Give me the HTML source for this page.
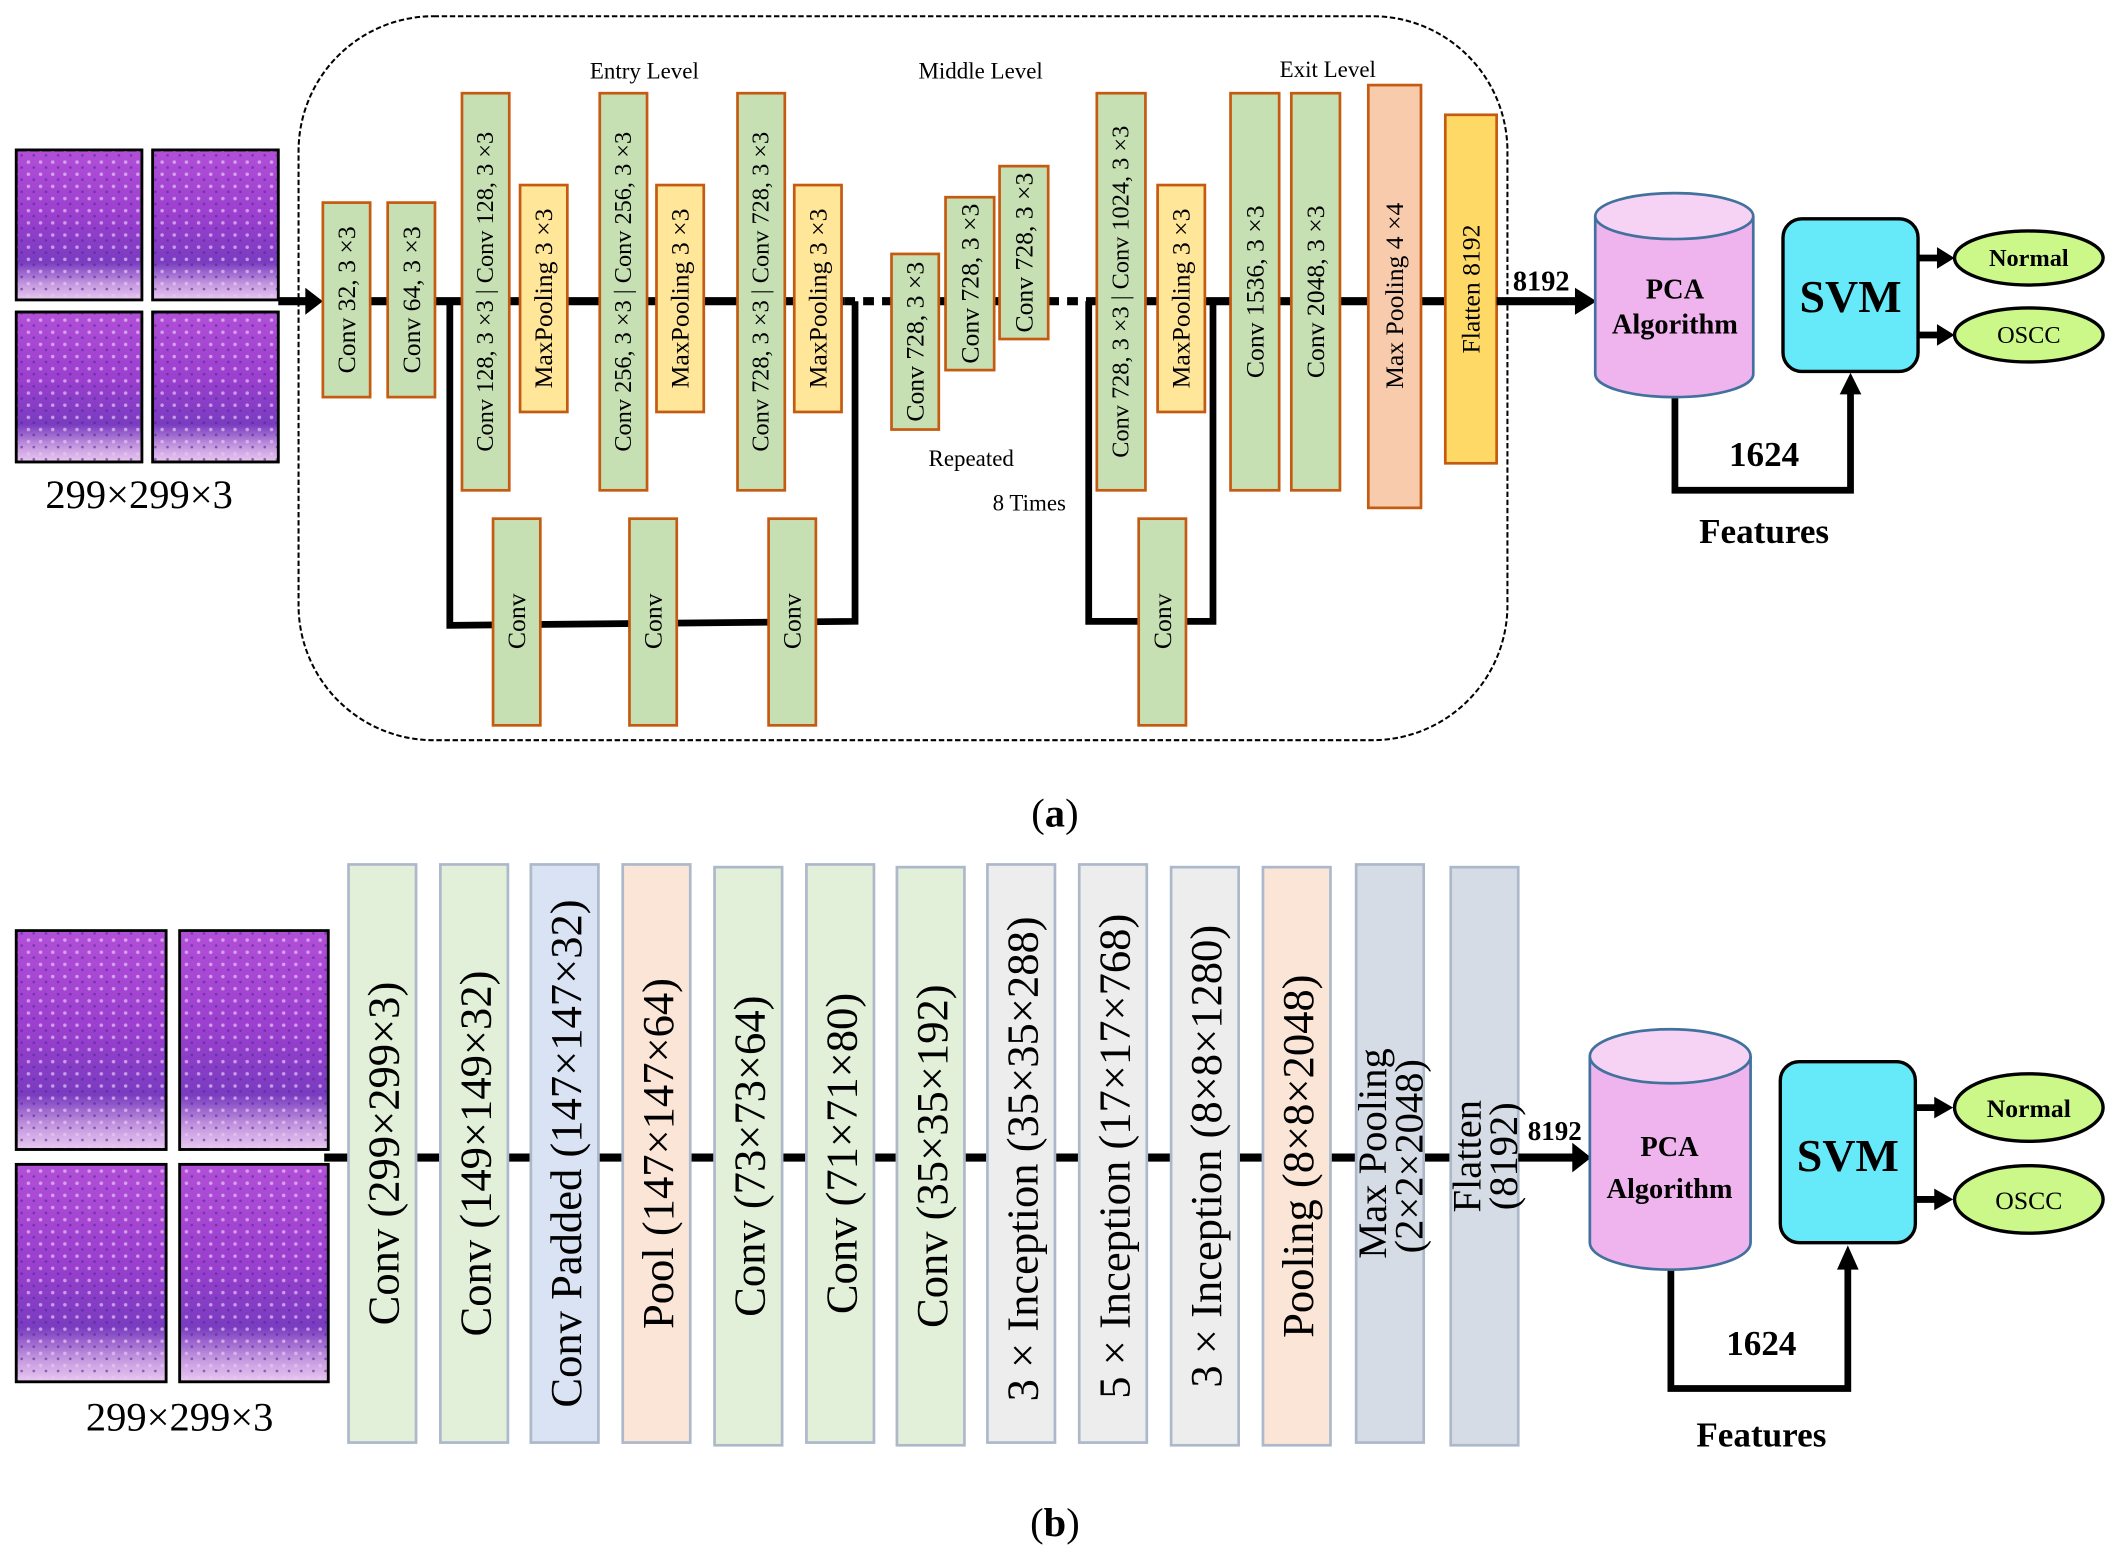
<!DOCTYPE html>
<html><head><meta charset="utf-8"><style>
html,body{margin:0;padding:0;background:#fff;}
svg{display:block;}
svg text{font-family:"Liberation Serif","DejaVu Serif",serif;}
</style></head><body>
<svg width="2118" height="1554" viewBox="0 0 1568 1150.5" xmlns="http://www.w3.org/2000/svg" font-family="Liberation Serif, DejaVu Serif, serif">
<defs>
<linearGradient id="tis" x1="0" y1="0" x2="0" y2="1">
<stop offset="0" stop-color="#b24fd8"/><stop offset="0.45" stop-color="#9b3fcf"/><stop offset="0.75" stop-color="#7a3cc0"/><stop offset="0.9" stop-color="#c79ae0"/><stop offset="1" stop-color="#e8c8f0"/>
</linearGradient>
<pattern id="dots" width="9" height="9" patternUnits="userSpaceOnUse"><circle cx="3" cy="3" r="1.3" fill="#e6c8f5" opacity="0.7"/><circle cx="7" cy="7" r="1" fill="#4a2a90" opacity="0.6"/></pattern>
</defs>
<rect width="1568" height="1150.5" fill="#fff"/>

<!-- ===== (a) ===== -->
<g stroke="#000" stroke-width="2">
<rect x="12" y="111" width="93" height="111" fill="url(#tis)"/><rect x="12" y="111" width="93" height="111" fill="url(#dots)"/>
<rect x="113" y="111" width="93" height="111" fill="url(#tis)"/><rect x="113" y="111" width="93" height="111" fill="url(#dots)"/>
<rect x="12" y="231" width="93" height="111" fill="url(#tis)"/><rect x="12" y="231" width="93" height="111" fill="url(#dots)"/>
<rect x="113" y="231" width="93" height="111" fill="url(#tis)"/><rect x="113" y="231" width="93" height="111" fill="url(#dots)"/>
</g>
<text x="103" y="376" font-size="30" text-anchor="middle">299×299×3</text>

<rect x="221" y="12" width="895" height="536" rx="100" fill="none" stroke="#000" stroke-width="1.5" stroke-dasharray="4,2"/>

<g stroke="#000" stroke-width="6" fill="none">
<line x1="206" y1="223" x2="228" y2="223"/>
<line x1="274" y1="223" x2="625" y2="223"/>
<line x1="625" y1="223" x2="660" y2="223" stroke-dasharray="8,6"/>
<line x1="695" y1="223" x2="776" y2="223"/>
<line x1="776" y1="223" x2="812" y2="223" stroke-dasharray="8,6"/>
<line x1="848" y1="223" x2="1108" y2="223"/>
<polyline points="333,223 333,463 633,460 633,223" stroke-width="5"/>
<polyline points="806,223 806,460 898,460 898,223" stroke-width="5"/>
</g>
<path d="M226,213 L239,223 L226,233 z" fill="#000"/>

<g stroke="#c55a11" stroke-width="2">
<rect x="239" y="150" width="35" height="144" fill="#c6e0b4"/>
<rect x="287" y="150" width="35" height="144" fill="#c6e0b4"/>
<rect x="342" y="69" width="35" height="294" fill="#c6e0b4"/>
<rect x="385" y="137" width="35" height="168" fill="#ffe699"/>
<rect x="444" y="69" width="35" height="294" fill="#c6e0b4"/>
<rect x="486" y="137" width="35" height="168" fill="#ffe699"/>
<rect x="546" y="69" width="35" height="294" fill="#c6e0b4"/>
<rect x="588" y="137" width="35" height="168" fill="#ffe699"/>
<rect x="660" y="188" width="35" height="130" fill="#c6e0b4"/>
<rect x="700" y="146" width="36" height="128" fill="#c6e0b4"/>
<rect x="740" y="123" width="36" height="128" fill="#c6e0b4"/>
<rect x="812" y="69" width="36" height="294" fill="#c6e0b4"/>
<rect x="857" y="137" width="35" height="168" fill="#ffe699"/>
<rect x="911" y="69" width="36" height="294" fill="#c6e0b4"/>
<rect x="956" y="69" width="36" height="294" fill="#c6e0b4"/>
<rect x="1013" y="63" width="39" height="313" fill="#f8cbad"/>
<rect x="1070" y="85" width="38" height="258" fill="#ffd966"/>
<rect x="365" y="384" width="35" height="153" fill="#c6e0b4"/>
<rect x="466" y="384" width="35" height="153" fill="#c6e0b4"/>
<rect x="569" y="384" width="35" height="153" fill="#c6e0b4"/>
<rect x="843" y="384" width="35" height="153" fill="#c6e0b4"/>
</g>
<g font-size="19" text-anchor="middle" dominant-baseline="central">
<text transform="translate(256.5,222) rotate(-90)">Conv 32, 3 ×3</text>
<text transform="translate(304.5,222) rotate(-90)">Conv 64, 3 ×3</text>
<text transform="translate(359.5,216) rotate(-90)" font-size="18">Conv 128, 3 ×3 | Conv 128, 3 ×3</text>
<text transform="translate(402.5,221) rotate(-90)">MaxPooling 3 ×3</text>
<text transform="translate(461.5,216) rotate(-90)" font-size="18">Conv 256, 3 ×3 | Conv 256, 3 ×3</text>
<text transform="translate(503.5,221) rotate(-90)">MaxPooling 3 ×3</text>
<text transform="translate(563.5,216) rotate(-90)" font-size="18">Conv 728, 3 ×3 | Conv 728, 3 ×3</text>
<text transform="translate(605.5,221) rotate(-90)">MaxPooling 3 ×3</text>
<text transform="translate(677.5,253) rotate(-90)">Conv 728, 3 ×3</text>
<text transform="translate(718,210) rotate(-90)">Conv 728, 3 ×3</text>
<text transform="translate(758,187) rotate(-90)">Conv 728, 3 ×3</text>
<text transform="translate(830,216) rotate(-90)" font-size="18">Conv 728, 3 ×3 | Conv 1024, 3 ×3</text>
<text transform="translate(874.5,221) rotate(-90)">MaxPooling 3 ×3</text>
<text transform="translate(929,216) rotate(-90)">Conv 1536, 3 ×3</text>
<text transform="translate(974,216) rotate(-90)">Conv 2048, 3 ×3</text>
<text transform="translate(1032.5,219) rotate(-90)">Max Pooling 4 ×4</text>
<text transform="translate(1089,214) rotate(-90)">Flatten  8192</text>
<text transform="translate(382.5,460) rotate(-90)">Conv</text>
<text transform="translate(483.5,460) rotate(-90)">Conv</text>
<text transform="translate(586.5,460) rotate(-90)">Conv</text>
<text transform="translate(860.5,460) rotate(-90)">Conv</text>
</g>
<g font-size="17" text-anchor="middle">
<text x="477" y="58">Entry Level</text>
<text x="726" y="58">Middle Level</text>
<text x="983" y="57">Exit Level</text>
<text x="719" y="345">Repeated</text>
<text x="762" y="378">8 Times</text>
</g>

<g stroke="#000" stroke-width="6" fill="none">
<line x1="1108" y1="223" x2="1168" y2="223"/>
<polyline points="1240,294 1240,363 1370,363 1370,290" stroke-width="5"/>
<line x1="1420" y1="191" x2="1436" y2="191" stroke-width="5"/>
<line x1="1420" y1="248" x2="1436" y2="248" stroke-width="5"/>
</g>
<path d="M1166,213 L1182,223 L1166,233 z" fill="#000"/>
<path d="M1362,292 L1370,276 L1378,292 z" fill="#000"/>
<path d="M1434,183 L1447,191 L1434,199 z" fill="#000"/>
<path d="M1434,240 L1447,248 L1434,256 z" fill="#000"/>
<text x="1141" y="215" font-size="21" font-weight="bold" text-anchor="middle">8192</text>
<path d="M1181,160 L1181,277 A58.5,17 0 0 0 1298,277 L1298,160" fill="#efb3ed" stroke="#41719c" stroke-width="2"/>
<ellipse cx="1239.5" cy="160" rx="58.5" ry="17" fill="#f6d3f5" stroke="#41719c" stroke-width="2"/>
<text x="1240" y="221" font-size="21" font-weight="bold" text-anchor="middle">PCA</text>
<text x="1240" y="247" font-size="21" font-weight="bold" text-anchor="middle">Algorithm</text>
<rect x="1320" y="162" width="100" height="113" rx="14" fill="#66e9f8" stroke="#000" stroke-width="2.5"/>
<text x="1370" y="231" font-size="34" font-weight="bold" text-anchor="middle">SVM</text>
<ellipse cx="1502" cy="191" rx="55" ry="20" fill="#ccf88a" stroke="#000" stroke-width="2.5"/>
<ellipse cx="1502" cy="248" rx="55" ry="20" fill="#ccf88a" stroke="#000" stroke-width="2.5"/>
<text x="1502" y="197" font-size="18" font-weight="bold" text-anchor="middle">Normal</text>
<text x="1502" y="254" font-size="18" text-anchor="middle">OSCC</text>
<text x="1306" y="345" font-size="26" font-weight="bold" text-anchor="middle">1624</text>
<text x="1306" y="402" font-size="26" font-weight="bold" text-anchor="middle">Features</text>
<text x="781" y="612" font-size="30" text-anchor="middle">(<tspan font-weight="bold">a</tspan>)</text>

<!-- ===== (b) ===== -->
<g stroke="#000" stroke-width="2">
<rect x="12" y="689" width="111" height="162" fill="url(#tis)"/><rect x="12" y="689" width="111" height="162" fill="url(#dots)"/>
<rect x="133" y="689" width="110" height="162" fill="url(#tis)"/><rect x="133" y="689" width="110" height="162" fill="url(#dots)"/>
<rect x="12" y="862" width="111" height="161" fill="url(#tis)"/><rect x="12" y="862" width="111" height="161" fill="url(#dots)"/>
<rect x="133" y="862" width="110" height="161" fill="url(#tis)"/><rect x="133" y="862" width="110" height="161" fill="url(#dots)"/>
</g>
<text x="133" y="1059" font-size="30" text-anchor="middle">299×299×3</text>
<line x1="240" y1="857" x2="1124" y2="857" stroke="#000" stroke-width="6"/>
<g stroke="#adb9ca" stroke-width="2">
<rect x="258" y="640" width="50" height="428" fill="#e2f0d9"/>
<rect x="326" y="640" width="50" height="428" fill="#e2f0d9"/>
<rect x="393" y="640" width="50" height="428" fill="#dae3f3"/>
<rect x="461" y="640" width="50" height="428" fill="#fbe5d6"/>
<rect x="529" y="642" width="50" height="428" fill="#e2f0d9"/>
<rect x="597" y="640" width="50" height="428" fill="#e2f0d9"/>
<rect x="664" y="642" width="50" height="428" fill="#e2f0d9"/>
<rect x="731" y="640" width="50" height="428" fill="#ededed"/>
<rect x="799" y="640" width="50" height="428" fill="#ededed"/>
<rect x="867" y="642" width="50" height="428" fill="#ededed"/>
<rect x="935" y="642" width="50" height="428" fill="#fbe5d6"/>
<rect x="1004" y="640" width="50" height="428" fill="#d6dce5"/>
<rect x="1074" y="642" width="50" height="428" fill="#d6dce5"/>
</g>
<g font-size="33" text-anchor="middle" dominant-baseline="central">
<text transform="translate(284,854) rotate(-90)">Conv (299×299×3)</text>
<text transform="translate(352,854) rotate(-90)">Conv (149×149×32)</text>
<text transform="translate(419,854) rotate(-90)">Conv Padded  (147×147×32)</text>
<text transform="translate(487,854) rotate(-90)">Pool (147×147×64)</text>
<text transform="translate(555,856) rotate(-90)">Conv (73×73×64)</text>
<text transform="translate(623,854) rotate(-90)">Conv (71×71×80)</text>
<text transform="translate(690,856) rotate(-90)">Conv (35×35×192)</text>
<text transform="translate(757,858) rotate(-90)">3 × Inception (35×35×288)</text>
<text transform="translate(825,856) rotate(-90)">5 × Inception (17×17×768)</text>
<text transform="translate(893,856) rotate(-90)">3 × Inception (8×8×1280)</text>
<text transform="translate(961,856) rotate(-90)">Pooling (8×8×2048)</text>
<text transform="translate(1016,854) rotate(-90)" font-size="30">Max Pooling</text>
<text transform="translate(1043,856) rotate(-90)" font-size="30">(2×2×2048)</text>
<text transform="translate(1086,856) rotate(-90)" font-size="30">Flatten</text>
<text transform="translate(1113,856) rotate(-90)" font-size="30">(8192)</text>
</g>
<g stroke="#000" stroke-width="6" fill="none">
<line x1="1124" y1="857" x2="1166" y2="857"/>
<polyline points="1237,940 1237,1028 1368,1028 1368,938" stroke-width="5"/>
<line x1="1418" y1="820" x2="1434" y2="820" stroke-width="5"/>
<line x1="1418" y1="888" x2="1434" y2="888" stroke-width="5"/>
</g>
<path d="M1164,846 L1178,857 L1164,868 z" fill="#000"/>
<path d="M1360,940 L1368,922 L1376,940 z" fill="#000"/>
<path d="M1432,812 L1446,820 L1432,828 z" fill="#000"/>
<path d="M1432,880 L1446,888 L1432,896 z" fill="#000"/>
<text x="1151" y="844" font-size="20" font-weight="bold" text-anchor="middle">8192</text>
<path d="M1177,782 L1177,920 A59.5,20 0 0 0 1296,920 L1296,782" fill="#efb3ed" stroke="#41719c" stroke-width="2"/>
<ellipse cx="1236.5" cy="782" rx="59.5" ry="20" fill="#f6d3f5" stroke="#41719c" stroke-width="2"/>
<text x="1236" y="856" font-size="21" font-weight="bold" text-anchor="middle">PCA</text>
<text x="1236" y="887" font-size="21" font-weight="bold" text-anchor="middle">Algorithm</text>
<rect x="1318" y="786" width="100" height="134" rx="14" fill="#66e9f8" stroke="#000" stroke-width="2.5"/>
<text x="1368" y="867" font-size="34" font-weight="bold" text-anchor="middle">SVM</text>
<ellipse cx="1502" cy="820" rx="55" ry="25" fill="#ccf88a" stroke="#000" stroke-width="2.5"/>
<ellipse cx="1502" cy="888" rx="55" ry="25" fill="#ccf88a" stroke="#000" stroke-width="2.5"/>
<text x="1502" y="827" font-size="19" font-weight="bold" text-anchor="middle">Normal</text>
<text x="1502" y="895" font-size="19" text-anchor="middle">OSCC</text>
<text x="1304" y="1003" font-size="26" font-weight="bold" text-anchor="middle">1624</text>
<text x="1304" y="1071" font-size="26" font-weight="bold" text-anchor="middle">Features</text>
<text x="781" y="1137" font-size="30" text-anchor="middle">(<tspan font-weight="bold">b</tspan>)</text>
</svg>
</body></html>
